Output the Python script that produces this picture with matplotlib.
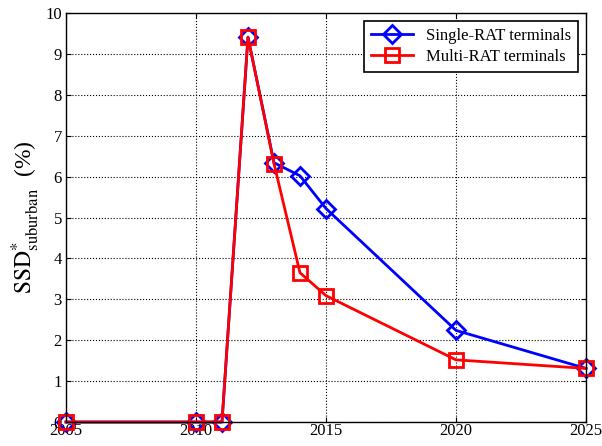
import matplotlib.pyplot as plt

years = [2005, 2010, 2011, 2012, 2013, 2014, 2015, 2020, 2025]
single_rat = [0, 0, 0, 9.41, 6.34, 6.02, 5.22, 2.24, 1.31]
multi_rat = [0, 0, 0, 9.41, 6.32, 3.65, 3.09, 1.52, 1.31]

plt.rcParams['font.family'] = ['Liberation Serif', 'DejaVu Serif']
plt.rcParams['mathtext.fontset'] = 'stix'

fig = plt.figure(figsize=(6.02, 4.46), dpi=100)
ax = fig.add_axes([0.1096, 0.0538, 0.8638, 0.917])

ax.plot(years, single_rat, color='#0000ff', lw=2, marker='D', ms=9,
        mfc='none', mew=2, label='Single-RAT terminals', clip_on=False)
ax.plot(years, multi_rat, color='#ff0000', lw=2, marker='s', ms=10,
        mfc='none', mew=2, label='Multi-RAT terminals', clip_on=False)

ax.set_xlim(2005, 2025)
ax.set_ylim(0, 10)
ax.set_xticks([2005, 2010, 2015, 2020, 2025])
ax.set_yticks(range(0, 11))
ax.grid(True, color='black', linestyle=':', lw=0.8)
ax.tick_params(direction='in', labelsize=12, top=True, right=True)
ax.tick_params(axis='x', pad=1)
ax.tick_params(axis='y', pad=3)
for s in ax.spines.values():
    s.set_linewidth(1)

ax.set_ylabel(r'$\mathrm{SSD}^{*}_{\mathrm{suburban}}$  (%)', fontsize=17, labelpad=2)

leg = ax.legend(loc='upper right', fontsize=12, fancybox=False,
                edgecolor='black', framealpha=1, handlelength=2.5,
                borderaxespad=0.5, labelspacing=0.3)
leg.get_frame().set_linewidth(1.2)

fig.savefig('out.png', dpi=100)
